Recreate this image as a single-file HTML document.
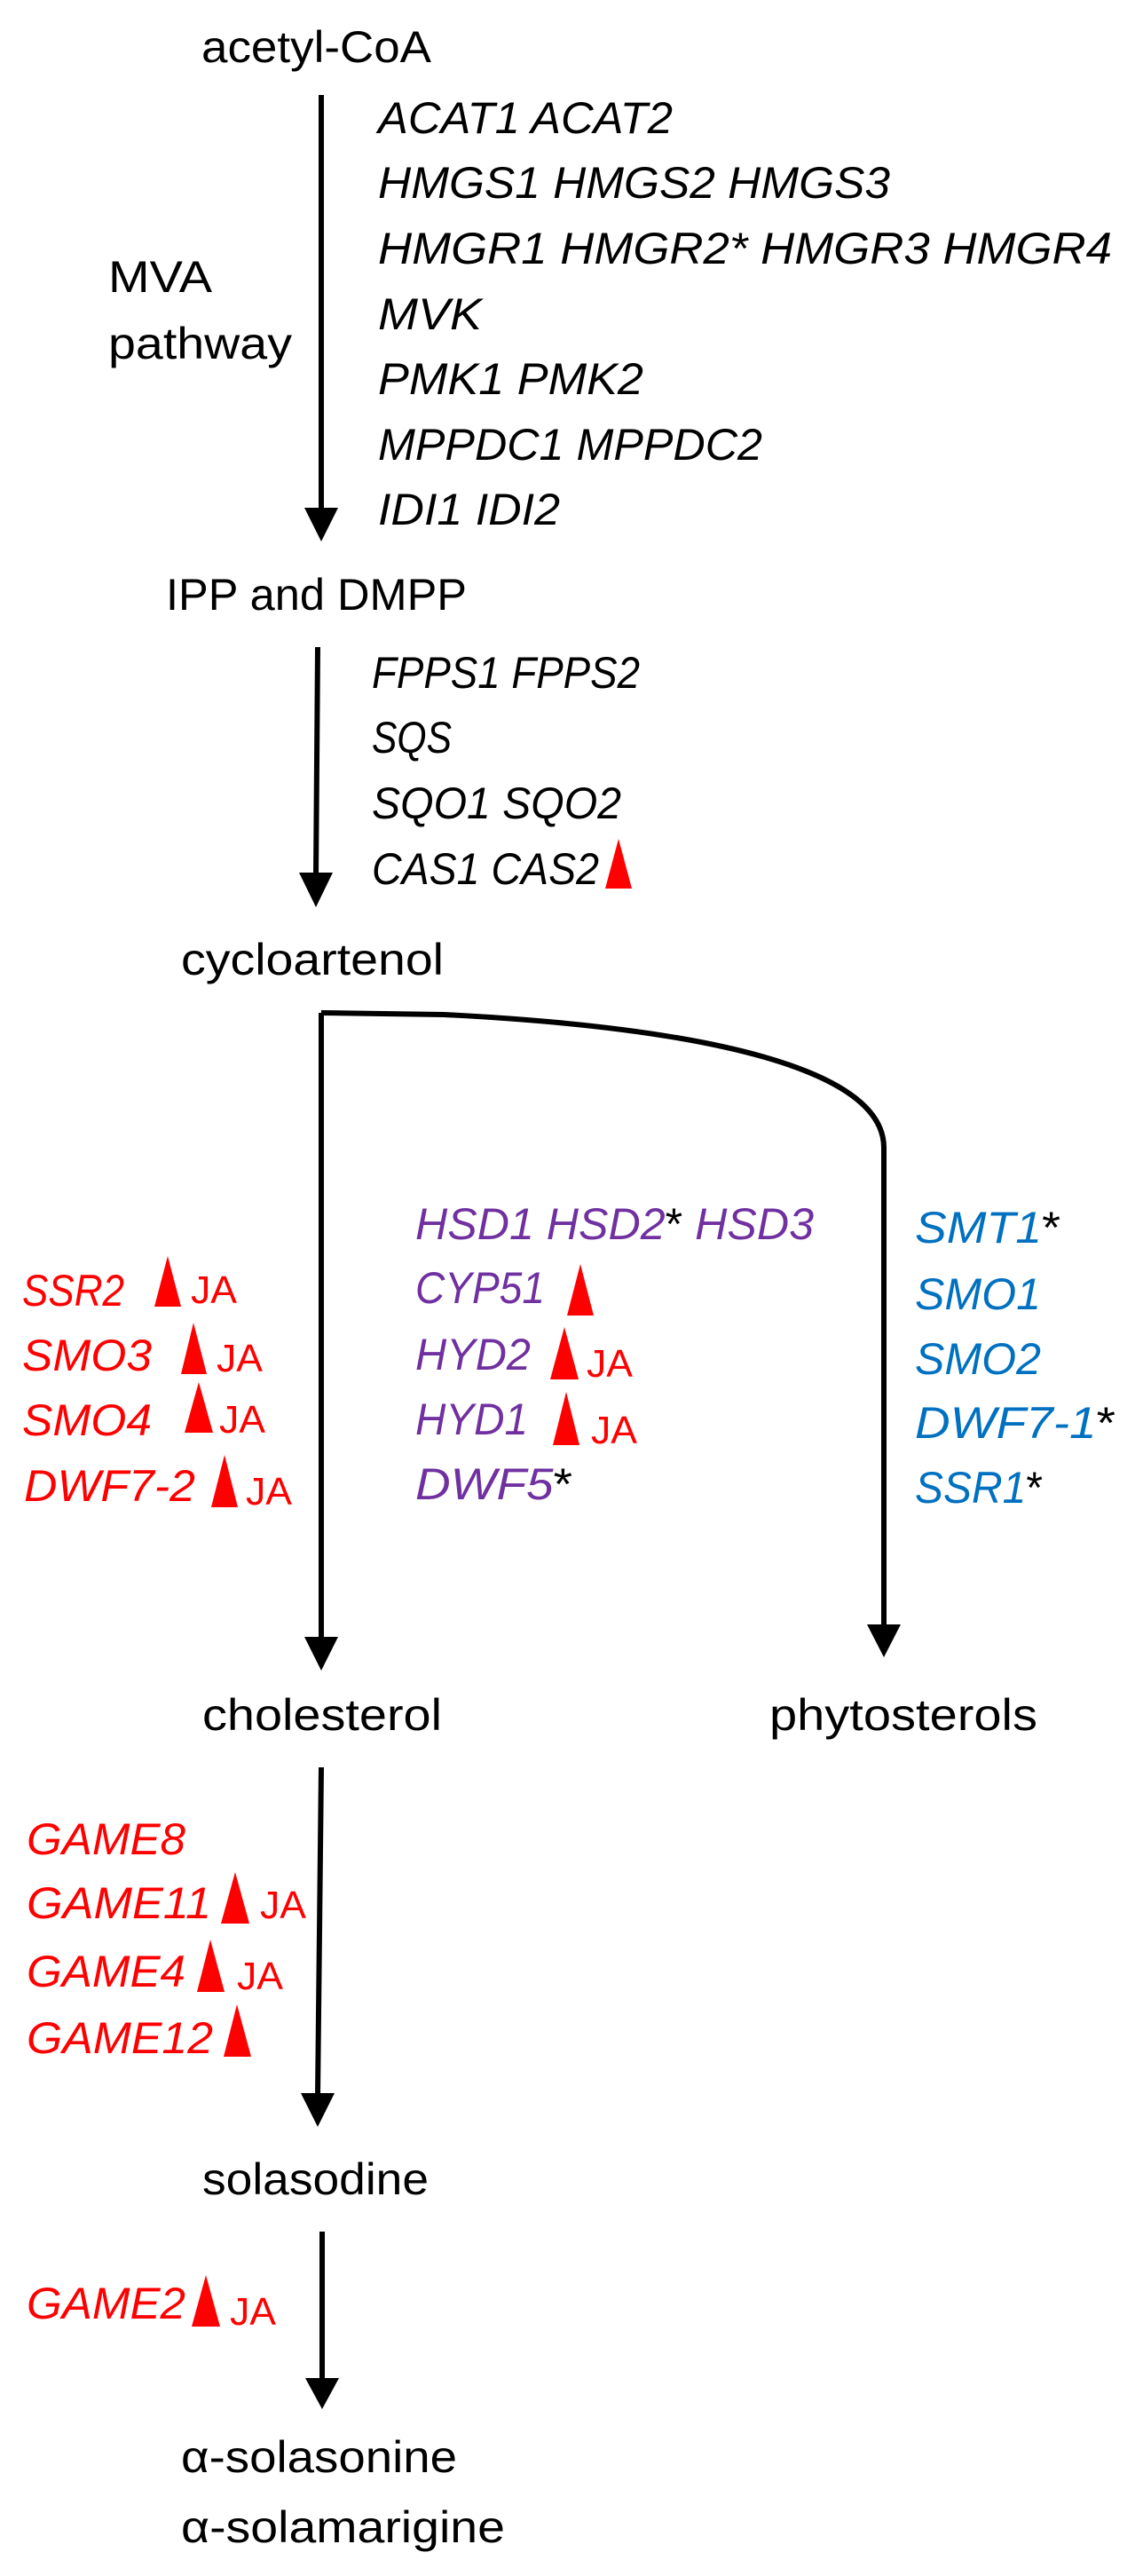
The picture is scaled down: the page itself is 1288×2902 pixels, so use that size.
<!DOCTYPE html>
<html><head><meta charset="utf-8"><style>
html,body{margin:0;padding:0;background:#fff;}
svg{display:block;}
text{font-family:"Liberation Sans",sans-serif;font-size:50px;}
.i{font-style:italic;}
.r{fill:#FF0000;}
.p{fill:#7030A0;}
.b{fill:#0070C0;}
.ja{font-size:44px;fill:#FF0000;}
</style></head><body>
<svg width="1288" height="2902" viewBox="0 0 1288 2902" xmlns="http://www.w3.org/2000/svg">
<g stroke="#000" stroke-width="6" fill="none">
<line x1="362" y1="107" x2="362" y2="575"/>
<line x1="358" y1="729" x2="356" y2="986"/>
<path d="M362 1141 L500 1143 C800 1158 996 1205 996 1293 L996 1833"/>
<line x1="362" y1="1141" x2="362" y2="1847"/>
<line x1="362" y1="1991" x2="358" y2="2361"/>
<line x1="363" y1="2514" x2="363" y2="2682"/>
</g>
<g fill="#000">
<polygon points="343,572 381,572 362,610"/>
<polygon points="337,983 375,983 356,1022"/>
<polygon points="977,1830 1015,1830 996,1867"/>
<polygon points="343,1844 381,1844 362,1882"/>
<polygon points="339,2358 377,2358 358,2396"/>
<polygon points="344,2679 382,2679 363,2714"/>
</g>
<g fill="#FF0000">
<polygon points="682,1001 712,1001 697,945"/>
<polygon points="174,1472 204,1472 189,1415"/>
<polygon points="204,1548 233,1548 218,1490"/>
<polygon points="208,1614 240,1614 224,1557"/>
<polygon points="238,1698 268,1698 253,1639"/>
<polygon points="639,1482 669,1482 654,1424"/>
<polygon points="620,1554 652,1554 636,1495"/>
<polygon points="623,1628 653,1628 638,1568"/>
<polygon points="249,2167 281,2167 265,2109"/>
<polygon points="222,2244 253,2244 237,2185"/>
<polygon points="252,2317 283,2317 267,2258"/>
<polygon points="216,2621 248,2621 232,2563"/>
</g>
<!-- main nodes -->
<text x="227" y="70" textLength="259" lengthAdjust="spacingAndGlyphs">acetyl-CoA</text>
<text x="122" y="329" textLength="117" lengthAdjust="spacingAndGlyphs">MVA</text>
<text x="122" y="404" textLength="207" lengthAdjust="spacingAndGlyphs">pathway</text>
<text x="187" y="687" textLength="339" lengthAdjust="spacingAndGlyphs">IPP and DMPP</text>
<text x="204" y="1098" textLength="296" lengthAdjust="spacingAndGlyphs">cycloartenol</text>
<text x="228" y="1949" textLength="270" lengthAdjust="spacingAndGlyphs">cholesterol</text>
<text x="867" y="1949" textLength="302" lengthAdjust="spacingAndGlyphs">phytosterols</text>
<text x="228" y="2472" textLength="255" lengthAdjust="spacingAndGlyphs">solasodine</text>
<text x="204" y="2785" textLength="311" lengthAdjust="spacingAndGlyphs">α-solasonine</text>
<text x="204" y="2864" textLength="365" lengthAdjust="spacingAndGlyphs">α-solamarigine</text>
<!-- MVA genes -->
<g class="i">
<text class="i" x="426" y="150" textLength="332" lengthAdjust="spacingAndGlyphs">ACAT1 ACAT2</text>
<text class="i" x="426" y="223" textLength="577" lengthAdjust="spacingAndGlyphs">HMGS1 HMGS2 HMGS3</text>
<text class="i" x="426" y="297" textLength="827" lengthAdjust="spacingAndGlyphs">HMGR1 HMGR2* HMGR3 HMGR4</text>
<text class="i" x="426" y="371" textLength="117" lengthAdjust="spacingAndGlyphs">MVK</text>
<text class="i" x="426" y="444" textLength="299" lengthAdjust="spacingAndGlyphs">PMK1 PMK2</text>
<text class="i" x="426" y="518" textLength="433" lengthAdjust="spacingAndGlyphs">MPPDC1 MPPDC2</text>
<text class="i" x="426" y="591" textLength="205" lengthAdjust="spacingAndGlyphs">IDI1 IDI2</text>
<text class="i" x="419" y="775" textLength="302" lengthAdjust="spacingAndGlyphs">FPPS1 FPPS2</text>
<text class="i" x="419" y="848" textLength="90" lengthAdjust="spacingAndGlyphs">SQS</text>
<text class="i" x="419" y="922" textLength="281" lengthAdjust="spacingAndGlyphs">SQO1 SQO2</text>
<text class="i" x="419" y="996" textLength="256" lengthAdjust="spacingAndGlyphs">CAS1 CAS2</text>
</g>
<!-- red left -->
<text class="i r" x="25" y="1471" textLength="115" lengthAdjust="spacingAndGlyphs">SSR2</text>
<text class="i r" x="25" y="1544" textLength="146" lengthAdjust="spacingAndGlyphs">SMO3</text>
<text class="i r" x="25" y="1617" textLength="146" lengthAdjust="spacingAndGlyphs">SMO4</text>
<text class="i r" x="27" y="1691" textLength="193" lengthAdjust="spacingAndGlyphs">DWF7-2</text>
<text class="ja" x="215" y="1468" textLength="52" lengthAdjust="spacingAndGlyphs">JA</text>
<text class="ja" x="244" y="1545" textLength="52" lengthAdjust="spacingAndGlyphs">JA</text>
<text class="ja" x="247" y="1614" textLength="52" lengthAdjust="spacingAndGlyphs">JA</text>
<text class="ja" x="277" y="1695" textLength="52" lengthAdjust="spacingAndGlyphs">JA</text>
<!-- purple -->
<text class="i p" x="468" y="1396" textLength="449" lengthAdjust="spacingAndGlyphs">HSD1 HSD2<tspan fill="#000" font-style="normal">*</tspan> HSD3</text>
<text class="i p" x="468" y="1468" textLength="146" lengthAdjust="spacingAndGlyphs">CYP51</text>
<text class="i p" x="468" y="1543" textLength="130" lengthAdjust="spacingAndGlyphs">HYD2</text>
<text class="i p" x="468" y="1616" textLength="127" lengthAdjust="spacingAndGlyphs">HYD1</text>
<text class="i p" x="468" y="1689" textLength="177" lengthAdjust="spacingAndGlyphs">DWF5<tspan fill="#000" font-style="normal">*</tspan></text>
<text class="ja" x="661" y="1551" textLength="52" lengthAdjust="spacingAndGlyphs">JA</text>
<text class="ja" x="666" y="1626" textLength="52" lengthAdjust="spacingAndGlyphs">JA</text>
<!-- blue -->
<text class="i b" x="1031" y="1400" textLength="164" lengthAdjust="spacingAndGlyphs">SMT1<tspan fill="#000" font-style="normal">*</tspan></text>
<text class="i b" x="1031" y="1475" textLength="142" lengthAdjust="spacingAndGlyphs">SMO1</text>
<text class="i b" x="1031" y="1548" textLength="142" lengthAdjust="spacingAndGlyphs">SMO2</text>
<text class="i b" x="1031" y="1620" textLength="226" lengthAdjust="spacingAndGlyphs">DWF7-1<tspan fill="#000" font-style="normal">*</tspan></text>
<text class="i b" x="1031" y="1693" textLength="144" lengthAdjust="spacingAndGlyphs">SSR1<tspan fill="#000" font-style="normal">*</tspan></text>
<!-- GAME -->
<text class="i r" x="30" y="2089" textLength="179" lengthAdjust="spacingAndGlyphs">GAME8</text>
<text class="i r" x="30" y="2161" textLength="208" lengthAdjust="spacingAndGlyphs">GAME11</text>
<text class="i r" x="30" y="2238" textLength="179" lengthAdjust="spacingAndGlyphs">GAME4</text>
<text class="i r" x="30" y="2313" textLength="210" lengthAdjust="spacingAndGlyphs">GAME12</text>
<text class="i r" x="30" y="2612" textLength="179" lengthAdjust="spacingAndGlyphs">GAME2</text>
<text class="ja" x="293" y="2161" textLength="52" lengthAdjust="spacingAndGlyphs">JA</text>
<text class="ja" x="267" y="2241" textLength="52" lengthAdjust="spacingAndGlyphs">JA</text>
<text class="ja" x="259" y="2619" textLength="52" lengthAdjust="spacingAndGlyphs">JA</text>
</svg>
</body></html>
